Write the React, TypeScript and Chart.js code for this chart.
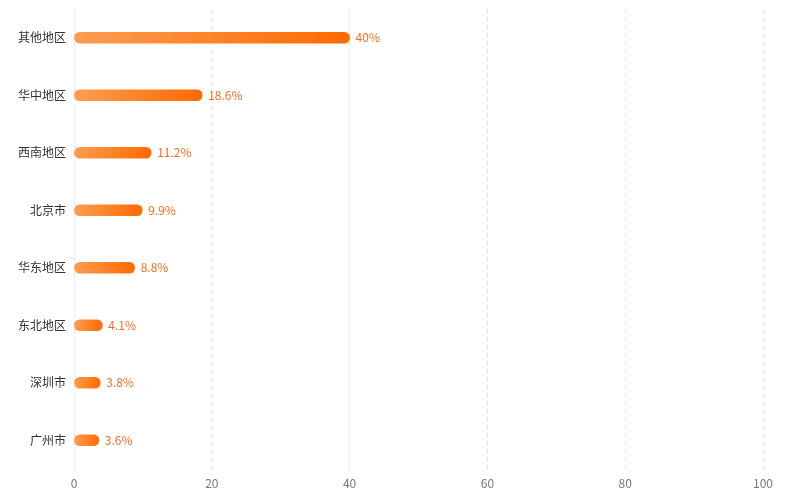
import React, { useEffect, useRef } from "react";
import { Chart, registerables } from "chart.js";

Chart.register(...registerables);

const categories = ["其他地区", "华中地区", "西南地区", "北京市", "华东地区", "东北地区", "深圳市", "广州市"];
const values = [40, 18.6, 11.2, 9.9, 8.8, 4.1, 3.8, 3.6];
const valueLabels = ["40%", "18.6%", "11.2%", "9.9%", "8.8%", "4.1%", "3.8%", "3.6%"];
const xTicks = [0, 20, 40, 60, 80, 100];

const FONT = "'Noto Sans CJK SC', 'Microsoft YaHei', sans-serif";

const labelPlugin = {
  id: "valueLabels",
  afterDatasetsDraw(chart: any) {
    const ctx = chart.ctx;
    const meta = chart.getDatasetMeta(0);
    ctx.save();
    ctx.font = `12px ${FONT}`;
    ctx.fillStyle = "#f07020";
    ctx.textAlign = "left";
    ctx.textBaseline = "middle";
    meta.data.forEach((bar: any, i: number) => {
      ctx.fillText(valueLabels[i], bar.x + 6, bar.y);
    });
    ctx.restore();
  },
};

export default function App() {
  const ref = useRef<HTMLCanvasElement>(null);
  useEffect(() => {
    document.body.style.margin = "0";
    const chart = new Chart(ref.current!, {
      type: "bar",
      data: {
        labels: categories,
        datasets: [
          {
            data: values,
            barThickness: 11,
            borderRadius: 6,
            borderSkipped: false,
            backgroundColor: (c: any) => {
              const ch = c.chart;
              const x = ch.scales?.x;
              if (!x || !ch.chartArea || c.dataIndex === undefined) return "#ff7a1a";
              const x0 = x.getPixelForValue(0);
              const x1 = x.getPixelForValue(values[c.dataIndex]);
              if (!isFinite(x0) || !isFinite(x1) || x1 - x0 < 1) return "#ff7a1a";
              const g = ch.ctx.createLinearGradient(x0, 0, x1, 0);
              g.addColorStop(0, "#fb9d52");
              g.addColorStop(1, "#ff6a00");
              return g;
            },
          },
        ],
      },
      options: {
        indexAxis: "y",
        animation: false,
        responsive: false,
        maintainAspectRatio: false,
        layout: { padding: { top: 9, right: 24, left: 0, bottom: 0 } },
        plugins: { legend: { display: false }, tooltip: { enabled: false } },
        scales: {
          x: {
            min: 0,
            max: 100,
            afterBuildTicks: (s: any) => {
              s.ticks = xTicks.map((v) => ({ value: v }));
            },
            afterFit: (s: any) => {
              s.height = 31;
              s.paddingLeft = 0;
              s.paddingRight = 0;
            },
            grid: {
              color: "#e3e3e3",
              drawTicks: false,
            },
            border: { display: false, dash: [4, 4] },
            ticks: {
              color: "#777",
              font: { family: FONT, size: 12 },
              padding: 7,
            },
          },
          y: {
            afterFit: (s: any) => {
              s.width = 74;
              s.paddingTop = 0;
              s.paddingBottom = 0;
            },
            grid: { display: false, drawTicks: false },
            border: { display: false },
            ticks: {
              color: "#333",
              font: { family: FONT, size: 12 },
              padding: 8,
            },
          },
        },
      },
      plugins: [labelPlugin],
    } as any);
    return () => chart.destroy();
  }, []);
  return <canvas ref={ref} width={787} height={500} style={{ display: "block" }} />;
}
